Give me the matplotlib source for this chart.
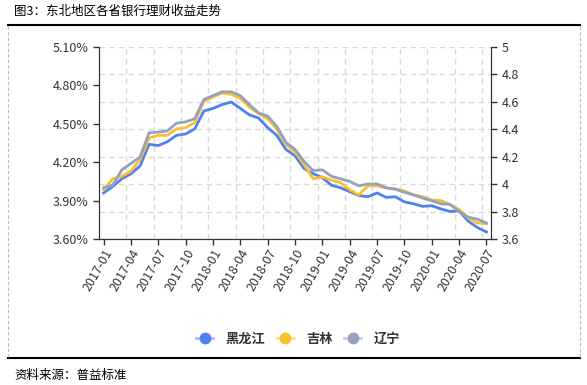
# -*- coding: utf-8 -*-
import matplotlib
matplotlib.use("Agg")
import matplotlib.pyplot as plt
from matplotlib.lines import Line2D
from matplotlib.colors import to_rgba
import numpy as np
import pandas as pd

plt.rcParams['font.family'] = ['Noto Sans CJK SC', 'DejaVu Sans']

months = pd.date_range('2017-01', '2020-07', freq='MS').strftime('%Y-%m').tolist()

heilongjiang = [3.96, 4.01, 4.07, 4.11, 4.17, 4.34, 4.33, 4.36, 4.41, 4.42, 4.46,
                4.60, 4.62, 4.65, 4.67, 4.62, 4.57, 4.545, 4.47, 4.41, 4.30,
                4.25, 4.15, 4.11, 4.08, 4.02, 4.00, 3.97, 3.94, 3.93, 3.96,
                3.925, 3.93, 3.89, 3.875, 3.855, 3.86, 3.835, 3.815, 3.82,
                3.74, 3.69, 3.655]
jilin = [3.985, 4.07, 4.09, 4.13, 4.22, 4.39, 4.41, 4.41, 4.46, 4.47, 4.51,
         4.675, 4.71, 4.74, 4.73, 4.70, 4.63, 4.58, 4.54, 4.46, 4.34,
         4.28, 4.18, 4.07, 4.085, 4.06, 4.04, 3.985, 3.945, 4.015, 4.015,
         4.00, 3.99, 3.975, 3.945, 3.93, 3.905, 3.90, 3.87, 3.83,
         3.765, 3.725, 3.72]
liaoning = [4.00, 4.02, 4.14, 4.19, 4.24, 4.43, 4.435, 4.445, 4.505, 4.515, 4.54,
            4.69, 4.72, 4.75, 4.75, 4.72, 4.65, 4.585, 4.56, 4.48, 4.355,
            4.30, 4.205, 4.135, 4.14, 4.09, 4.07, 4.05, 4.015, 4.03, 4.03,
            4.00, 3.99, 3.965, 3.945, 3.92, 3.90, 3.875, 3.87, 3.815,
            3.77, 3.755, 3.725]

names = ['黑龙江', '吉林', '辽宁']
colors = ['#4f82ee', '#fbc02d', '#96a0bf']
left_ticks = [3.6, 3.9, 4.2, 4.5, 4.8, 5.1]
right_ticks = [3.6, 3.8, 4.0, 4.2, 4.4, 4.6, 4.8, 5.0]

fig = plt.figure(figsize=(5.87, 3.85), dpi=100)
ax = fig.add_axes([99/587, 1-239/385, 392/587, 192/385])
ax2 = ax.twinx()
ax.set_zorder(ax2.get_zorder() + 1)
ax.patch.set_visible(False)

x = np.arange(len(months))
for vals, c in zip([heilongjiang, jilin, liaoning], colors):
    ax.plot(x, vals, color=c, lw=2.0, solid_joinstyle='round', zorder=3)

ax.set_xlim(-0.5, len(months) - 0.5)
ax.set_ylim(3.6, 5.1)
ax2.set_ylim(3.6, 5.0)

ax.set_yticks(left_ticks)
ax.set_yticklabels(['%.2f%%' % v for v in left_ticks])
ax2.set_yticks(right_ticks)
ax2.set_yticklabels(['%g' % v for v in right_ticks])

ax.set_xticks(x[::3])
ax.set_xticklabels(months[::3], rotation=60, ha='right', rotation_mode='anchor')
ax.set_xticks(np.arange(2.5, len(months) - 1, 3), minor=True)
ax.tick_params(axis='x', which='minor', length=0)

ax.grid(axis='x', which='minor', color='#d9d9d9', ls=(0, (4, 3)), lw=1)
ax2.grid(axis='y', color='#d9d9d9', ls=(0, (4, 3)), lw=1)

for a in (ax, ax2):
    a.spines['top'].set_visible(False)
    for s in ('left', 'right', 'bottom'):
        a.spines[s].set_color('#333333')
    a.tick_params(colors='#333333', labelsize=9, length=4, width=1)
ax.tick_params(axis='x', pad=2)

# legend: faded line, solid dot
handles = []
for n, c in zip(names, colors):
    handles.append(Line2D([], [], color=to_rgba(c, 0.5), lw=2, marker='o', markersize=7.5,
                          markerfacecolor=c, markeredgecolor=c, label=n))
leg = fig.legend(handles=handles, loc='center', bbox_to_anchor=(298/587, 1-339/385),
                 ncol=3, frameon=False, handlelength=1.3, handletextpad=0.9,
                 columnspacing=0.9, prop={'size': 9.5, 'weight': 'bold'})
for t in leg.get_texts():
    t.set_color('#333333')

# title, frame and source
fig.text(14/587, 1-11/385, '图3：东北地区各省银行理财收益走势', fontsize=9, va='center', ha='left')
fig.add_artist(Line2D([8/587, 580/587], [1-25/385, 1-25/385], color='black', lw=1.5))
fig.add_artist(Line2D([8/587, 580/587], [1-358/385, 1-358/385], color='black', lw=1.5))
fig.add_artist(Line2D([8/587, 8/587], [1-26/385, 1-357/385], color='#bbbbbb', lw=0.8, ls=(0, (3, 2))))
fig.add_artist(Line2D([580/587, 580/587], [1-26/385, 1-357/385], color='#bbbbbb', lw=0.8, ls=(0, (3, 2))))
fig.text(14/587, 1-375/385, '资料来源：普益标准', fontsize=9, va='center', ha='left')

fig.savefig('out.png', dpi=100)
